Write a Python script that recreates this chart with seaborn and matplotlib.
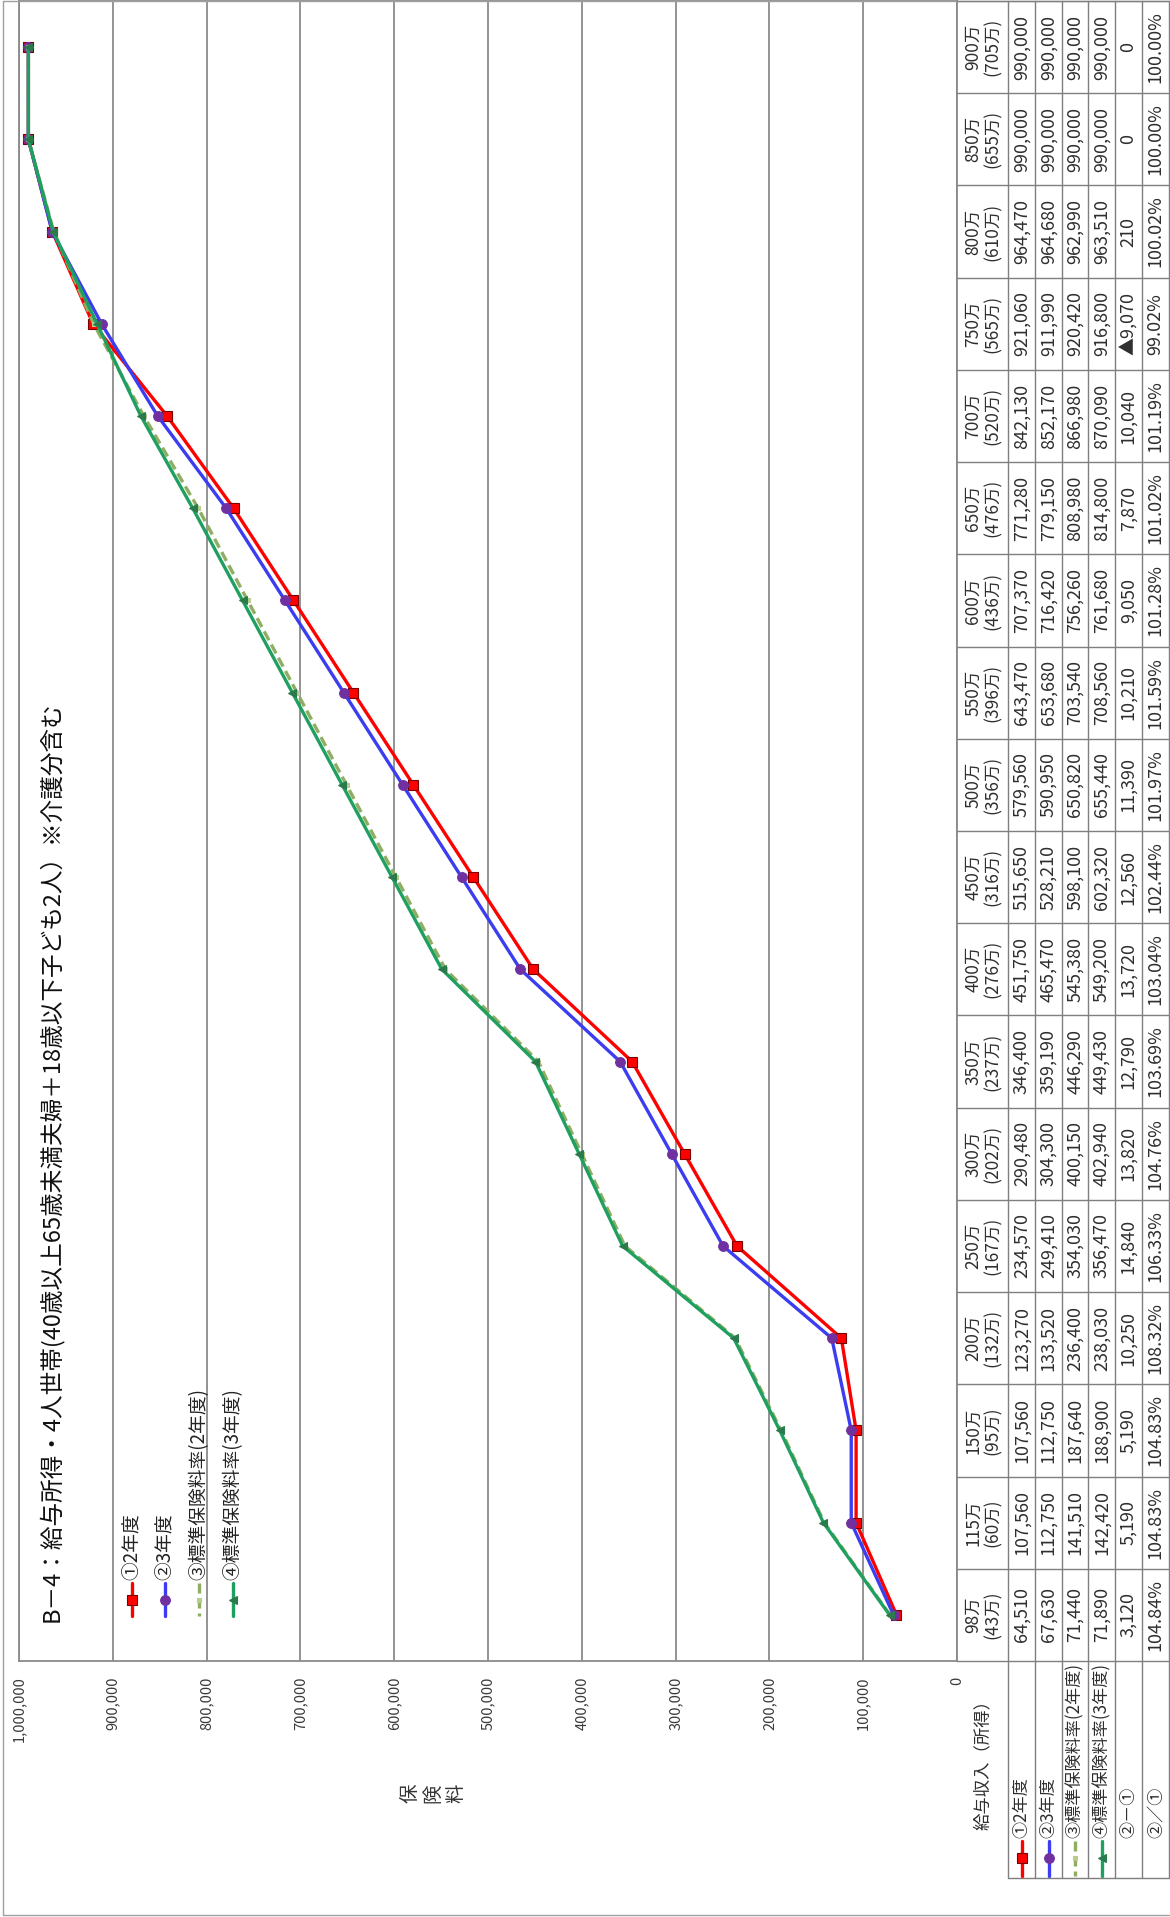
import matplotlib
matplotlib.use("Agg")
import matplotlib.pyplot as plt
import seaborn as sns
import pandas as pd
import numpy as np

# ---- data -------------------------------------------------------------
income_labels = ["98万", "115万", "150万", "200万", "250万", "300万", "350万", "400万", "450万",
                 "500万", "550万", "600万", "650万", "700万", "750万", "800万", "850万", "900万"]
earned_labels = ["(43万)", "(60万)", "(95万)", "(132万)", "(167万)", "(202万)", "(237万)", "(276万)",
                 "(316万)", "(356万)", "(396万)", "(436万)", "(476万)", "(520万)", "(565万)",
                 "(610万)", "(655万)", "(705万)"]

fy2 = [64510, 107560, 107560, 123270, 234570, 290480, 346400, 451750, 515650,
       579560, 643470, 707370, 771280, 842130, 921060, 964470, 990000, 990000]
fy3 = [67630, 112750, 112750, 133520, 249410, 304300, 359190, 465470, 528210,
       590950, 653680, 716420, 779150, 852170, 911990, 964680, 990000, 990000]
std_fy2 = [71440, 141510, 187640, 236400, 354030, 400150, 446290, 545380, 598100,
           650820, 703540, 756260, 808980, 866980, 920420, 962990, 990000, 990000]
std_fy3 = [71890, 142420, 188900, 238030, 356470, 402940, 449430, 549200, 602320,
           655440, 708560, 761680, 814800, 870090, 916800, 963510, 990000, 990000]

series_names = ["①2年度", "②3年度", "③標準保険料率(2年度)", "④標準保険料率(3年度)"]
row_names = series_names + ["②－①", "②／①"]
title = "B－4：給与所得・4人世帯(40歳以上65歳未満夫婦＋18歳以下子ども2人）※介護分含む"

# ---- styling ------------------------------------------------------------
sns.set_style("white")
plt.rcParams["font.family"] = ["Noto Sans CJK JP", "DejaVu Sans"]

W, H = 1170, 1917
fig = plt.figure(figsize=(W / 100, H / 100), dpi=100)
fig.patch.set_facecolor("white")

# plot area in pixels (landscape chart turned on its side)
px_left, px_right, px_top, px_bottom = 19, 957, 1, 1661
ax = fig.add_axes([px_left / W, (H - px_bottom) / H,
                   (px_right - px_left) / W, (px_bottom - px_top) / H])

n = len(income_labels)
pos = np.arange(n)

styles = [
    dict(color="#FF0000", lw=2.4, ls="-", marker="s", ms=7.5, mfc="#FF0000", mec="#7A0000"),
    dict(color="#3C3CF0", lw=2.4, ls="-", marker="o", ms=7, mfc="#7030A0", mec="#7030A0"),
    dict(color="#8FAE62", lw=2.4, ls=(0, (3, 1.5)), marker="s", ms=3, mfc="#B9CC8E", mec="#B9CC8E"),
    dict(color="#20A060", lw=2.4, ls="-", marker="<", ms=5.5, mfc="#2B7A4B", mec="#2B7A4B"),
]
values = [fy2, fy3, std_fy2, std_fy3]

for name, vals, st in zip(series_names, values, styles):
    df = pd.DataFrame({"income": pos, "premium": vals})
    sns.lineplot(data=df, x="premium", y="income", orient="y", sort=False, estimator=None,
                 ax=ax, color=st["color"], linewidth=st["lw"], linestyle=st["ls"],
                 marker=st["marker"], markersize=st["ms"], markerfacecolor=st["mfc"],
                 markeredgecolor=st["mec"], markeredgewidth=0.8, legend=False, zorder=3)

grid_c = "#8A8A8A"
ax.set_xlim(1_000_000, 0)
ax.set_ylim(-0.5, n - 0.5)
xt = np.arange(0, 1_000_001, 100_000)
ax.set_xticks(xt)
ax.set_xticklabels([f"{v:,}" for v in xt], rotation=90, fontsize=10.5, color="#3A3A3A",
                   family=["Noto Sans CJK JP", "DejaVu Sans"])
ax.tick_params(axis="x", direction="out", length=4, width=1, color=grid_c, pad=7)
ax.set_yticks([])
ax.set_xlabel("")
ax.set_ylabel("")
ax.grid(axis="x", color=grid_c, lw=1.3)
ax.set_axisbelow(True)
for sp in ax.spines.values():
    sp.set_color(grid_c)
    sp.set_linewidth(1.3)

# ---- overlay in pixel coordinates for table, legend and titles ---------
ov = fig.add_axes([0, 0, 1, 1], facecolor="none")
ov.set_xlim(0, W)
ov.set_ylim(H, 0)
ov.axis("off")

line_c = "#7F7F7F"
txt_c = "#2E2E2E"
fam = ["Noto Sans CJK JP", "DejaVu Sans"]

step = (px_bottom - px_top) / n
def cat_y(i):
    return px_bottom - (i + 0.5) * step

# outer frame
ov.plot([3, 3], [1, H - 2], color="#A0A0A0", lw=1)
ov.plot([3, 1169], [1, 1], color="#A0A0A0", lw=1)
ov.plot([3, 1169], [H - 2, H - 2], color="#A0A0A0", lw=1)

# table grid
row_x = [1008, 1035, 1062, 1088, 1115, 1142, 1169]
label_end = 1878
for k in range(n + 1):
    y = px_bottom - k * step
    ov.plot([px_right, 1169], [y, y], color=line_c, lw=1)
for x in row_x:
    ov.plot([x, x], [px_top, label_end], color=line_c, lw=1)
ov.plot([row_x[0], 1169], [label_end, label_end], color=line_c, lw=1)

# header row: income categories
for i in range(n):
    ov.text(983, cat_y(i), f"{income_labels[i]}\n{earned_labels[i]}", rotation=90,
            ha="center", va="center", multialignment="center", fontsize=12.5,
            color=txt_c, family=fam, linespacing=1.1)
ov.text(983, 1760, "給与収入（所得）", rotation=90, ha="center", va="center",
        fontsize=12.5, color=txt_c, family=fam)

# table body
diff = [b - a for a, b in zip(fy2, fy3)]
ratio = [b / a * 100 for a, b in zip(fy2, fy3)]

def fmt_diff(v):
    return f"▲{abs(v):,}" if v < 0 else f"{v:,}"

rows_text = [[f"{v:,}" for v in fy2], [f"{v:,}" for v in fy3],
             [f"{v:,}" for v in std_fy2], [f"{v:,}" for v in std_fy3],
             [fmt_diff(v) for v in diff], [f"{v:.2f}%" for v in ratio]]
for r, texts in enumerate(rows_text):
    xc = (row_x[r] + row_x[r + 1]) / 2
    for i, t in enumerate(texts):
        ov.text(xc, cat_y(i), t, rotation=90, ha="center", va="center",
                fontsize=13, color=txt_c, family=fam)
    # row label
    ov.text(xc, 1838, row_names[r], rotation=90, rotation_mode="anchor",
            ha="left", va="center", fontsize=12.3, color=txt_c, family=fam)
    if r < 4:
        st = styles[r]
        ov.plot([xc, xc], [1841, 1876], color=st["color"], lw=2.4, ls=st["ls"])
        ov.plot([xc], [1858], marker=st["marker"], ms=st["ms"], mfc=st["mfc"],
                mec=st["mec"], mew=0.8, ls="none")

# legend inside the plot
leg_x = [132, 165, 199, 233]
for k, (name, st) in enumerate(zip(series_names, styles)):
    x = leg_x[k]
    ov.plot([x, x], [1583, 1616], color=st["color"], lw=2.4, ls=st["ls"])
    ov.plot([x], [1600], marker=st["marker"], ms=st["ms"], mfc=st["mfc"],
            mec=st["mec"], mew=0.8, ls="none")
    ov.text(x, 1580, name, rotation=90, rotation_mode="anchor", ha="left",
            va="center", fontsize=13.5, color="#222222", family=fam)

# chart title
ov.text(51, 1622, title, rotation=90, rotation_mode="anchor", ha="left", va="center",
        fontsize=17, color="#111111", family=fam)

# value axis title (stacked characters)
for ch, x in zip("保険料", [410, 433, 456]):
    ov.text(x, 1793, ch, rotation=90, ha="center", va="center", fontsize=14,
            color="#333333", family=fam)

fig.savefig("out.png", dpi=100, facecolor="white")
